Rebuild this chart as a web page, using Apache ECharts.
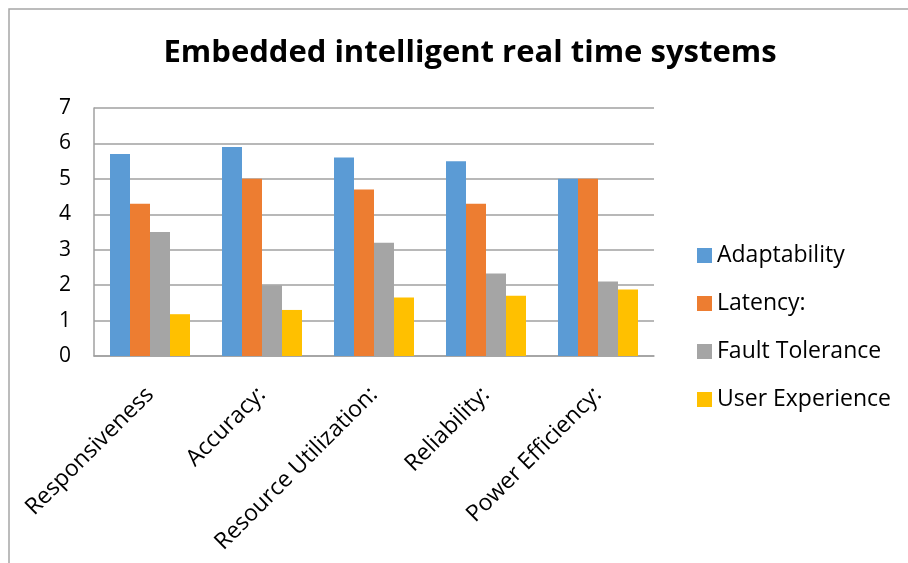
<!DOCTYPE html>
<html>
<head>
<meta charset="utf-8">
<script src="https://cdn.jsdelivr.net/npm/echarts@6/dist/echarts.min.js"></script>
<style>
    html, body { margin: 0; padding: 0; background: #fff; }
    #chart { width: 908px; height: 563px; }
</style>
</head>
<body>
<div id="chart"></div>
<script>
// 데이터
const categories = ['Responsiveness', 'Accuracy:', 'Resource Utilization:', 'Reliability:', 'Power Efficiency:'];
const seriesNames = ['Adaptability', 'Latency:', 'Fault Tolerance', 'User Experience'];
const adaptability = [5.7, 5.9, 5.6, 5.5, 5.0];
const latency = [4.3, 5.0, 4.7, 4.3, 5.0];
const faultTolerance = [3.5, 2.0, 3.2, 2.33, 2.1];
const userExperience = [1.18, 1.3, 1.65, 1.7, 1.88];
const yTicks = [0, 1, 2, 3, 4, 5, 6, 7];

const colors = ['#5B9BD5', '#ED7D31', '#A5A5A5', '#FFC000'];
const values = [adaptability, latency, faultTolerance, userExperience];
const font = '"Open Sans", "Noto Sans", sans-serif';

const chart = echarts.init(document.getElementById('chart'));

const option = {
    animation: false,
    textStyle: { fontFamily: font },
    title: {
        text: 'Embedded intelligent real time systems',
        left: 465,
        textAlign: 'center',
        top: 33,
        textStyle: { fontSize: 31, fontWeight: 'bold', color: '#000', fontFamily: font }
    },
    graphic: [{
        // 차트 영역 테두리 (왼쪽/위쪽만 보임)
        type: 'polyline',
        shape: { points: [[9, 563], [9, 9], [908, 9]] },
        style: { stroke: '#a6a6a6', lineWidth: 1.5, fill: null },
        silent: true
    }],
    legend: {
        orient: 'vertical',
        left: 692,
        top: 239,
        itemWidth: 15,
        itemHeight: 15,
        itemGap: 25,
        icon: 'rect',
        data: seriesNames,
        textStyle: { fontSize: 23, color: '#000', lineHeight: 23 }
    },
    grid: { left: 94, top: 108, width: 560, height: 248 },
    xAxis: {
        type: 'category',
        data: categories,
        axisLine: { lineStyle: { color: '#a0a0a0', width: 1.5 } },
        axisTick: { show: false },
        axisLabel: {
            rotate: 45,
            margin: 35,
            fontSize: 23,
            color: '#000',
            interval: 0
        }
    },
    yAxis: {
        type: 'value',
        min: yTicks[0],
        max: yTicks[yTicks.length - 1],
        interval: 1,
        axisLine: { show: true, lineStyle: { color: '#a0a0a0', width: 1.5 } },
        axisTick: { show: false },
        axisLabel: { fontSize: 21, color: '#000', margin: 23 },
        splitLine: { lineStyle: { color: '#a0a0a0', width: 1.5 } }
    },
    series: seriesNames.map((name, i) => ({
        name: name,
        type: 'bar',
        data: values[i],
        barWidth: 20,
        barGap: '0%',
        itemStyle: { color: colors[i] }
    }))
};

chart.setOption(option);
</script>
</body>
</html>
